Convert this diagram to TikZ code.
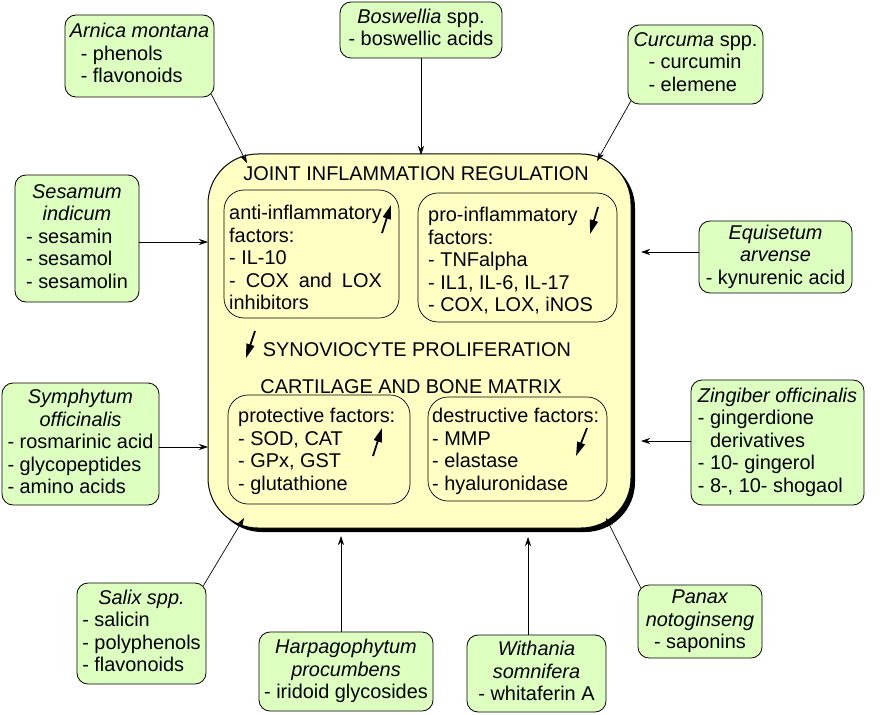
\documentclass[tikz,border=0pt]{standalone}
\usepackage{fontspec}
\setmainfont{Liberation Sans}
\usepackage{calc}
\usetikzlibrary{arrows.meta,shadows,calc}
\definecolor{plantgreen}{HTML}{DDFFBF}
\definecolor{jointyellow}{HTML}{FFFFC4}
\begin{document}
\begin{tikzpicture}[x=1pt,y=-1pt,
  every node/.style={font=\fontsize{19.9}{22.5}\selectfont},
  plant/.style={draw, line width=0.8pt, fill=plantgreen, rounded corners=11pt, inner sep=0pt},
  innerbox/.style={draw, line width=0.7pt, rounded corners=20pt, inner sep=0pt},
  listtext/.style={anchor=base west, inner sep=0pt},
  heading/.style={anchor=base, inner sep=0pt},
  conn/.style={line width=0.7pt, -{Stealth[length=9pt,width=6pt]}},
  bolt/.style={line width=1.8pt, -{Triangle[length=14pt,width=8pt]}}]
\useasboundingbox (0,0) rectangle (890,714);

% central box
\node[draw, line width=1pt, fill=jointyellow, rounded corners=50pt,
  minimum width=423pt, minimum height=374pt,
  drop shadow={shadow xshift=4pt, shadow yshift=-4pt, fill=black, opacity=1}]
  (joint) at (419.5,341) {};

% inner boxes
\node[innerbox, minimum width=175pt, minimum height=128pt] (anti) at (311.5,254) {};
\node[innerbox, minimum width=199pt, minimum height=129pt] (pro) at (517.5,257.5) {};
\node[innerbox, minimum width=182pt, minimum height=109pt] (prot) at (319,449.5) {};
\node[innerbox, minimum width=179pt, minimum height=104pt] (dest) at (517.5,449) {};

% headings
\node[heading] (h1) at (416,180) {JOINT INFLAMMATION REGULATION};
\node[heading] (h2) at (417,356) {SYNOVIOCYTE PROLIFERATION};
\node[heading] (h3) at (411,393) {CARTILAGE AND BONE MATRIX};

% inner texts
\node[listtext] (antitext) at (229,219.5) {\begin{tabular}[t]{@{}l@{}}
anti-inflammatory\\ factors:\\ - IL-10\\
\makebox[\widthof{anti-inflammatory}][s]{- COX and LOX}\\ inhibitors\end{tabular}};
\node[listtext] (protext) at (428,221.5) {\begin{tabular}[t]{@{}l@{}}
pro-inflammatory\\ factors:\\ - TNFalpha\\ - IL1, IL-6, IL-17\\ - COX, LOX, iNOS\end{tabular}};
\node[listtext] (prottext) at (238,422.5) {\begin{tabular}[t]{@{}l@{}}
protective factors:\\ - SOD, CAT\\ - GPx, GST\\ - glutathione\end{tabular}};
\node[listtext] (desttext) at (432,422.5) {\begin{tabular}[t]{@{}l@{}}
destructive factors:\\ - MMP\\ - elastase\\ - hyaluronidase\end{tabular}};

% bolts
\draw[bolt] (382,233) -- (391,205);
\draw[bolt] (598,207) -- (590,234);
\draw[bolt] (255,331) -- (246,358);
\draw[bolt] (373,456) -- (382,428);
\draw[bolt] (587,428) -- (576,456);

% plant boxes
\node[plant, minimum width=149pt, minimum height=82pt] (arnica) at (139.5,56)
 {\begin{tabular}{@{}l@{}}\textit{Arnica montana}\\ \hspace{11pt}- phenols\\ \hspace{11pt}- flavonoids\end{tabular}};
\node[plant, minimum width=162pt, minimum height=56pt] (boswellia) at (421,30)
 {\begin{tabular}{@{}c@{}}\textit{Boswellia} spp.\\ - boswellic acids\end{tabular}};
\node[plant, minimum width=135pt, minimum height=79pt] (curcuma) at (695.5,64.5)
 {\begin{tabular}{@{}l@{}}\textit{Curcuma} spp.\\ \hspace{15pt}- curcumin\\ \hspace{15pt}- elemene\end{tabular}};
\node[plant, minimum width=124pt, minimum height=127pt] (sesamum) at (77,238.5)
 {\begin{tabular}{@{}l@{}}\multicolumn{1}{@{}c@{}}{\textit{Sesamum}}\\ \multicolumn{1}{@{}c@{}}{\textit{indicum}}\\ - sesamin\\ - sesamol\\ - sesamolin\end{tabular}};
\node[plant, minimum width=157pt, minimum height=122pt] (symphytum) at (80.5,444)
 {\begin{tabular}{@{}l@{}}\multicolumn{1}{@{}c@{}}{\textit{Symphytum}}\\ \multicolumn{1}{@{}c@{}}{\textit{officinalis}}\\ - rosmarinic acid\\ - glycopeptides\\ - amino acids\end{tabular}};
\node[plant, minimum width=153pt, minimum height=72pt] (equisetum) at (775.5,257)
 {\begin{tabular}{@{}c@{}}\textit{Equisetum}\\ \textit{arvense}\\ - kynurenic acid\end{tabular}};
\node[plant, minimum width=173pt, minimum height=125pt] (zingiber) at (777.5,442.5)
 {\begin{tabular}{@{}l@{}}\textit{Zingiber officinalis}\\ - gingerdione\\ \phantom{- }derivatives\\ - 10- gingerol\\ - 8-, 10- shogaol\end{tabular}};
\node[plant, minimum width=129pt, minimum height=101pt] (salix) at (141.5,633.5)
 {\begin{tabular}{@{}l@{}}\multicolumn{1}{@{}c@{}}{\textit{Salix spp.}}\\ - salicin\\ - polyphenols\\ - flavonoids\end{tabular}};
\node[plant, minimum width=174pt, minimum height=79pt] (harpago) at (346,671.5)
 {\begin{tabular}{@{}c@{}}\textit{Harpagophytum}\\ \textit{procumbens}\\ - iridoid glycosides\end{tabular}};
\node[plant, minimum width=139pt, minimum height=77pt] (withania) at (536.5,673.5)
 {\begin{tabular}{@{}c@{}}\textit{Withania}\\ \textit{somnifera}\\ - whitaferin A\end{tabular}};
\node[plant, minimum width=124pt, minimum height=73pt] (panax) at (700,621.5)
 {\begin{tabular}{@{}c@{}}\textit{Panax}\\ \textit{notoginseng}\\ - saponins\end{tabular}};

% arrow targets on the central box
\coordinate (tArn) at (247,163);
\coordinate (tBos) at (421,155);
\coordinate (tCur) at (597,161);
\coordinate (tSes) at (208,242);
\coordinate (tSym) at (208,447);
\coordinate (tEqu) at (641,252);
\coordinate (tZin) at (641,441);
\coordinate (tSal) at (244,518);
\coordinate (tHar) at (341,536);
\coordinate (tWit) at (528,537);
\coordinate (tPan) at (606,518);

% connectors
\draw[conn] ($(arnica.south east)+(-3,-3)$) -- (tArn);
\draw[conn] (boswellia.south) -- (tBos);
\draw[conn] ($(curcuma.south west)+(3,-3)$) -- (tCur);
\draw[conn] (sesamum.east |- tSes) -- (tSes);
\draw[conn] (symphytum.east |- tSym) -- (tSym);
\draw[conn] (equisetum.west |- tEqu) -- (tEqu);
\draw[conn] (zingiber.west |- tZin) -- (tZin);
\draw[conn] ($(salix.north east)+(-3,3)$) -- (tSal);
\draw[conn] (tHar |- harpago.north) -- (tHar);
\draw[conn] (tWit |- withania.north) -- (tWit);
\draw[conn] ($(panax.north west)+(3,3)$) -- (tPan);
\end{tikzpicture}
\end{document}
